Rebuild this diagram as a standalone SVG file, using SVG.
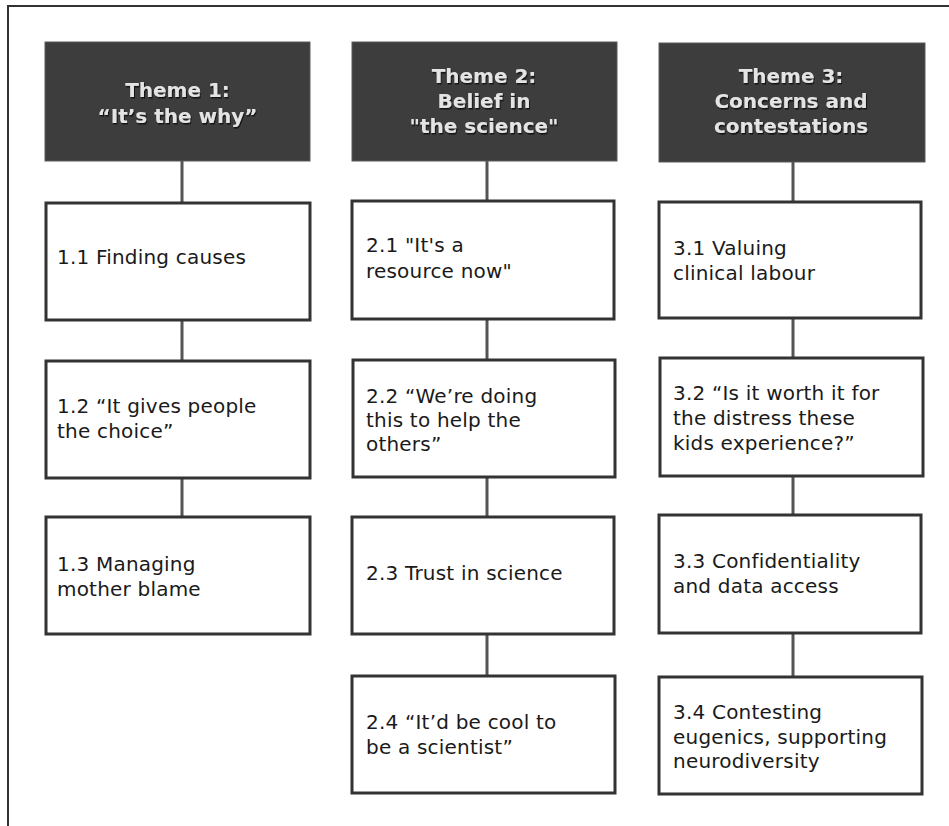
<svg xmlns="http://www.w3.org/2000/svg" width="949" height="826" viewBox="0 0 949 826">
<defs>
<filter id="sh" x="-10%" y="-10%" width="120%" height="130%">
<feDropShadow dx="1" dy="1.5" stdDeviation="0.6" flood-color="#111" flood-opacity="0.9"/>
</filter>
</defs>
<style>
.frame{stroke:#333;stroke-width:2;fill:none}
.hdr{fill:#3d3d3d;stroke:#5a5a5a;stroke-width:1}
.ht{font-family:"DejaVu Sans",sans-serif;font-weight:bold;font-size:20px;fill:#e4e4e4;text-anchor:middle;filter:url(#sh)}
.box{fill:#fff;stroke:#333;stroke-width:3}
.bt{font-family:"DejaVu Sans",sans-serif;font-size:20px;letter-spacing:0.2px;fill:#1a1a1a}
.con{stroke:#555;stroke-width:3;fill:none}
</style>
<rect width="949" height="826" fill="#fff"/>
<path class="frame" d="M8,826 V6 H949"/>
<g id="connectors">
<path class="con" d="M182,161 V203 M182,320 V361 M182,478 V517"/>
<path class="con" d="M487,161 V201 M487,319 V360 M487,477 V517 M487,634 V676"/>
<path class="con" d="M793,162 V202 M793,318 V358 M793,476 V515 M793,633 V677"/>
</g>
<g id="theme1">
<rect class="hdr" x="45" y="42" width="265" height="119"/>
<text class="ht" x="177.5" y="97">Theme 1:</text>
<text class="ht" x="177.5" y="123">“It’s the why”</text>
</g>
<g id="theme2">
<rect class="hdr" x="352" y="42" width="265" height="119"/>
<text class="ht" x="484" y="83">Theme 2:</text>
<text class="ht" x="484" y="108">Belief in</text>
<text class="ht" x="484" y="133">"the science"</text>
</g>
<g id="theme3">
<rect class="hdr" x="659" y="43" width="266" height="119"/>
<text class="ht" x="791" y="83">Theme 3:</text>
<text class="ht" x="791" y="108">Concerns and</text>
<text class="ht" x="791" y="133">contestations</text>
</g>
<g id="n1-1">
<rect class="box" x="46" y="203" width="264" height="117"/>
<text class="bt" x="57" y="264">1.1 Finding causes</text>
</g>
<g id="n1-2">
<rect class="box" x="46" y="361" width="264" height="117"/>
<text class="bt" x="57" y="413">1.2 “It gives people</text>
<text class="bt" x="57" y="438">the choice”</text>
</g>
<g id="n1-3">
<rect class="box" x="46" y="517" width="264" height="117"/>
<text class="bt" x="57" y="571">1.3 Managing</text>
<text class="bt" x="57" y="596">mother blame</text>
</g>
<g id="n2-1">
<rect class="box" x="352" y="201" width="262" height="118"/>
<text class="bt" x="366" y="252">2.1 "It's a</text>
<text class="bt" x="366" y="278">resource now"</text>
</g>
<g id="n2-2">
<rect class="box" x="353" y="360" width="262" height="117"/>
<text class="bt" x="366" y="403">2.2 “We’re doing</text>
<text class="bt" x="366" y="427">this to help the</text>
<text class="bt" x="366" y="451">others”</text>
</g>
<g id="n2-3">
<rect class="box" x="352" y="517" width="262" height="117"/>
<text class="bt" x="366" y="580">2.3 Trust in science</text>
</g>
<g id="n2-4">
<rect class="box" x="352" y="676" width="263" height="117"/>
<text class="bt" x="366" y="729">2.4 “It’d be cool to</text>
<text class="bt" x="366" y="754">be a scientist”</text>
</g>
<g id="n3-1">
<rect class="box" x="659" y="202" width="262" height="116"/>
<text class="bt" x="673" y="255">3.1 Valuing</text>
<text class="bt" x="673" y="280">clinical labour</text>
</g>
<g id="n3-2">
<rect class="box" x="660" y="358" width="263" height="118"/>
<text class="bt" x="673" y="400">3.2 “Is it worth it for</text>
<text class="bt" x="673" y="425">the distress these</text>
<text class="bt" x="673" y="450">kids experience?”</text>
</g>
<g id="n3-3">
<rect class="box" x="659" y="515" width="262" height="118"/>
<text class="bt" x="673" y="568">3.3 Confidentiality</text>
<text class="bt" x="673" y="593">and data access</text>
</g>
<g id="n3-4">
<rect class="box" x="659" y="677" width="263" height="117"/>
<text class="bt" x="673" y="719">3.4 Contesting</text>
<text class="bt" x="673" y="744">eugenics, supporting</text>
<text class="bt" x="673" y="768">neurodiversity</text>
</g>
</svg>
